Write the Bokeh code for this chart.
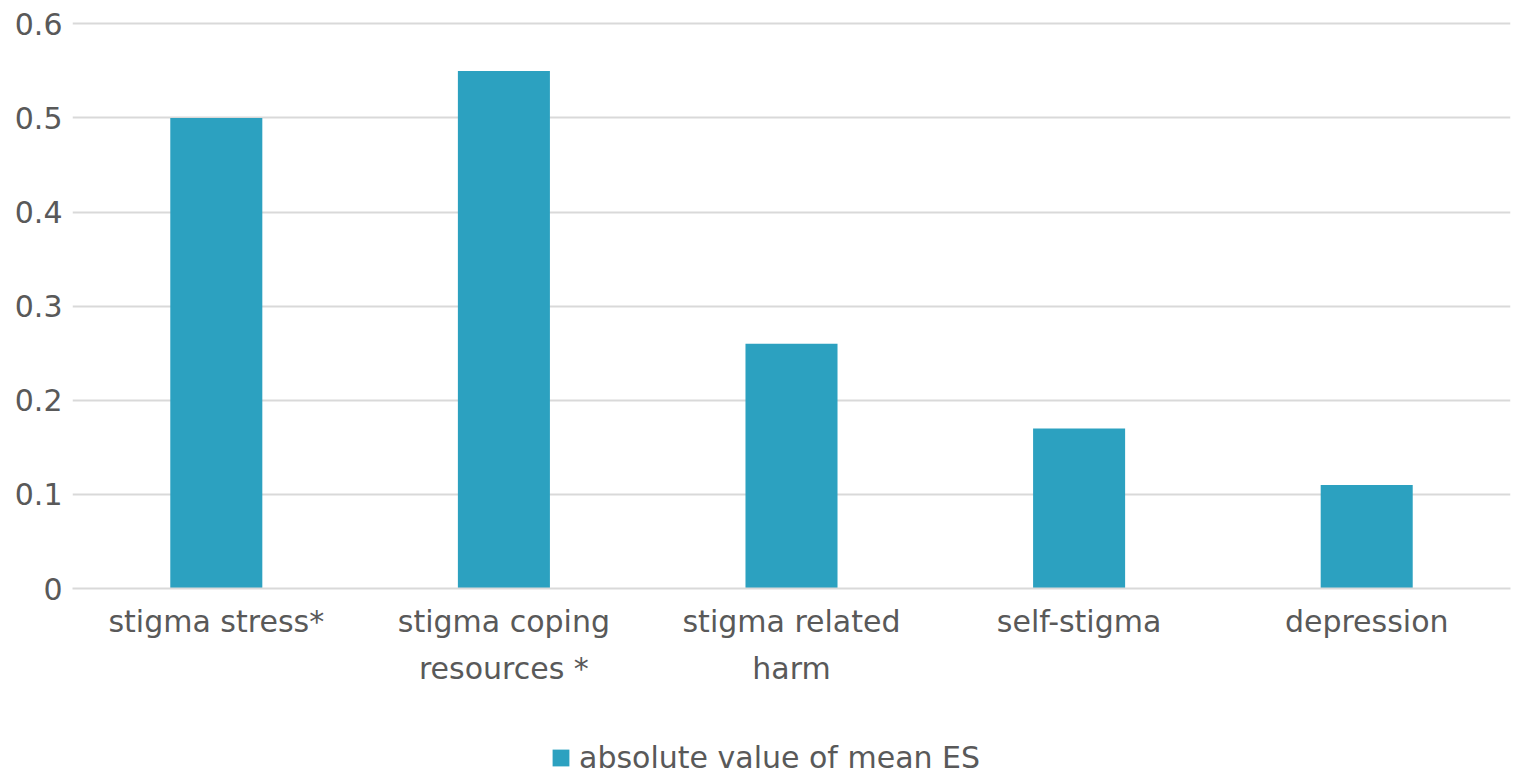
from bokeh.plotting import figure
from bokeh.layouts import column
from bokeh.models import FixedTicker, Legend, LegendItem, ColumnDataSource, Range1d, FactorRange
from bokeh.embed import file_html
from bokeh.resources import INLINE

categories = ["stigma stress*", "stigma coping\nresources *", "stigma related\nharm", "self-stigma", "depression"]
values = [0.5, 0.55, 0.26, 0.17, 0.11]
series_name = "absolute value of mean ES"
y_ticks = [0, 0.1, 0.2, 0.3, 0.4, 0.5, 0.6]
y_tick_labels = ["0", "0.1", "0.2", "0.3", "0.4", "0.5", "0.6"]

FONT = "DejaVu Sans"
TXT = "#595959"
BAR = "#2CA1C0"
GRID = "#D9D9D9"
FS = "30px"

src = ColumnDataSource(dict(cat=categories, val=values))

p = figure(x_range=FactorRange(*categories, range_padding=0), y_range=Range1d(0, 0.6025),
           width=1514, height=728, output_backend="svg", toolbar_location=None,
           min_border_left=72, min_border_right=4, min_border_top=21, min_border_bottom=140)
p.outline_line_color = None
r = p.vbar(x="cat", top="val", width=0.32, source=src, color=BAR, line_color=None)

p.yaxis.ticker = FixedTicker(ticks=y_ticks)
p.yaxis.major_label_overrides = {t: l for t, l in zip(y_ticks, y_tick_labels)}
p.yaxis.axis_line_color = None
p.yaxis.major_tick_line_color = None
p.yaxis.minor_tick_line_color = None
p.yaxis.major_label_text_font = FONT
p.yaxis.major_label_text_font_size = FS
p.yaxis.major_label_text_color = TXT
p.yaxis.major_label_standoff = 4

p.xaxis.axis_line_color = GRID
p.xaxis.axis_line_width = 2
p.xaxis.major_tick_line_color = None
p.xaxis.minor_tick_line_color = None
p.xaxis.major_label_text_font = FONT
p.xaxis.major_label_text_font_size = FS
p.xaxis.major_label_text_color = TXT
p.xaxis.major_label_text_line_height = 1.35
p.xaxis.major_label_standoff = 9

p.xgrid.grid_line_color = None
p.ygrid.grid_line_color = GRID
p.ygrid.grid_line_width = 2

# legend strip below the chart (its bars sit outside the visible y range)
lg = figure(x_range=FactorRange(*categories), y_range=Range1d(10, 11),
            width=1514, height=47, output_backend="svg", toolbar_location=None,
            x_axis_location=None, y_axis_location=None,
            min_border_left=0, min_border_right=0, min_border_top=0, min_border_bottom=0)
lg.outline_line_color = None
lg.xgrid.grid_line_color = None
lg.ygrid.grid_line_color = None
lr = lg.vbar(x="cat", top="val", width=0.32, source=src, color=BAR, line_color=None)

legend = Legend(items=[LegendItem(label=series_name, renderers=[lr])], orientation="horizontal",
                location=(478, 0), label_text_font=FONT, label_text_font_size=FS,
                label_text_color=TXT, glyph_width=21, glyph_height=21, border_line_color=None,
                background_fill_alpha=0, margin=0, padding=0, label_standoff=8)
lg.add_layout(legend, "center")

layout = column(p, lg, spacing=0)
open("out.html", "w").write(file_html(layout, INLINE))
